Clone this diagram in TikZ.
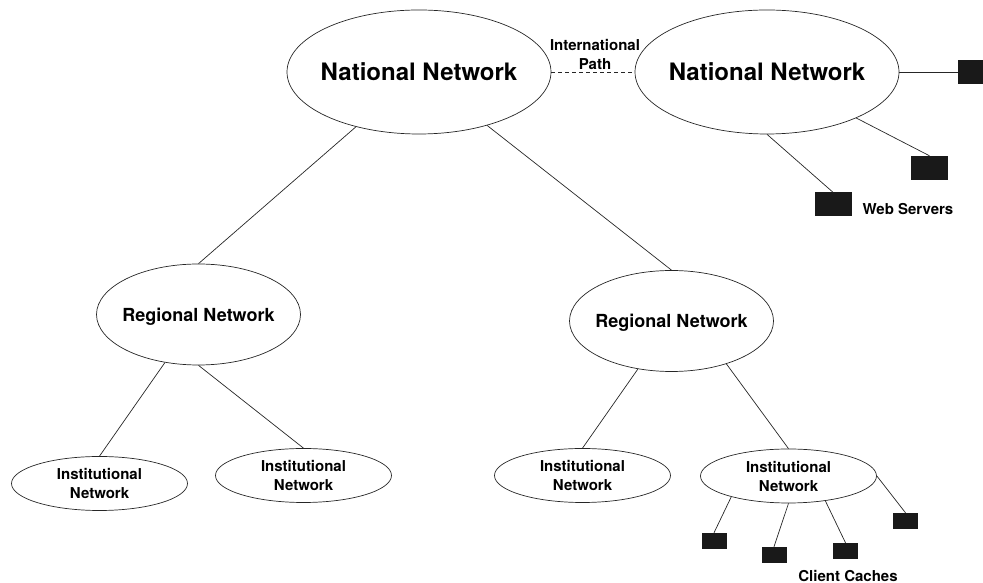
\documentclass[tikz,border=0pt]{standalone}
\usepackage{fontspec}
\setmainfont{TeX Gyre Heros}
\usetikzlibrary{positioning, shapes.geometric}

\begin{document}
\begin{tikzpicture}[
    x=1pt, y=1pt,
    link/.style={draw=black!85, line width=0.7pt},
    national/.style={ellipse, draw=black!85, line width=0.7pt, inner ysep=0pt, inner xsep=-10pt, minimum width=264pt, minimum height=124pt, font=\fontsize{24}{28}\selectfont\bfseries},
    regional/.style={ellipse, draw=black!85, line width=0.7pt, inner ysep=0pt, inner xsep=-10pt, minimum width=204pt, minimum height=101pt, text depth=0pt, font=\fontsize{18}{22}\selectfont\bfseries},
    institution/.style={ellipse, draw=black!85, line width=0.7pt, inner sep=0pt, minimum width=176pt, minimum height=54pt, align=center, font=\fontsize{15}{19}\selectfont\bfseries},
    server/.style={rectangle, fill=black!90, inner sep=0pt, minimum width=37pt, minimum height=24pt},
    cache/.style={rectangle, fill=black!90, inner sep=0pt, minimum width=25pt, minimum height=16pt},
    caption/.style={inner sep=0pt, align=center, font=\fontsize{15}{19}\selectfont\bfseries}
]
\useasboundingbox (0,0) rectangle (983,583);

% Backbone networks
\node[national] (nat1) at (419,511) {National Network};
\node[national] (nat2) at (767,511) {National Network};
\node[caption] (intl) at (595,529) {International\\Path};

% Regional and institutional networks
\node[regional] (reg1) at (198.5,268.5) {Regional Network};
\node[regional] (reg2) at (671.5,262) {Regional Network};
\node[institution] (inst1) at (99.5,99.5) {Institutional\\Network};
\node[institution] (inst2) at (303.5,107.5) {Institutional\\Network};
\node[institution] (inst3) at (582.5,107.5) {Institutional\\Network};
\node[institution] (inst4) at (788.5,107) {Institutional\\Network};

% Web servers
\node[server, minimum width=25pt] (srv1) at (970.5,511) {};
\node[server] (srv2) at (929.5,415) {};
\node[server] (srv3) at (833,378.5) {};
\node[caption] (websrv) at (908,374) {Web Servers};

% Client caches
\node[cache] (cc1) at (714,42) {};
\node[cache] (cc2) at (774,28) {};
\node[cache] (cc3) at (845.5,32) {};
\node[cache] (cc4) at (905.5,62) {};
\node[caption] (caches) at (848,7) {Client Caches};

% Links
\draw[link, dash pattern=on 4pt off 3pt] (nat1.east) -- (nat2.west);
\draw[link] (nat1) -- (reg1.north);
\draw[link] (nat1) -- (reg2.north);
\draw[link] (nat2.east) -- (srv1.west);
\draw[link] (nat2) -- (srv2.north);
\draw[link] (nat2.south) -- (srv3.north);
\draw[link] (reg1) -- (inst1.north);
\draw[link] (reg1.south) -- (inst2.north);
\draw[link] (reg2) -- (inst3.north);
\draw[link] (reg2.-38) -- (inst4.north);
\draw[link] (inst4.200) -- (cc1.north);
\draw[link] (inst4.south) -- (cc2.north);
\draw[link] (inst4.-34) -- (cc3.north);
\draw[link] (inst4.east) -- (cc4.north);

\end{tikzpicture}
\end{document}
